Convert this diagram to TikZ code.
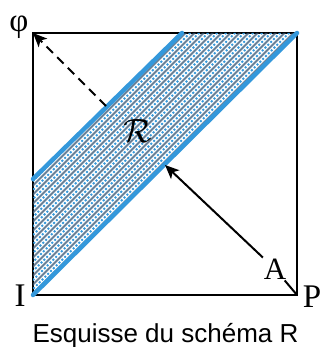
\documentclass[tikz,border=0pt]{standalone}
\usepackage{fontspec}
\setmainfont{Liberation Serif}
\newfontfamily\capfont{Liberation Sans}
\usetikzlibrary{arrows.meta}
\definecolor{bandblue}{RGB}{52,152,219}
\definecolor{hatchgrey}{RGB}{55,85,115}
\begin{document}
\begin{tikzpicture}[x=1pt,y=-1pt,
  frame/.style={line width=2.6pt, black},
  edge/.style={line width=4.5pt, bandblue, line cap=round},
  hatchblue/.style={bandblue, line width=1.8pt, dash pattern=on 2pt off 2pt},
  hatchgray/.style={hatchgrey, opacity=0.75, line width=2pt},
  lab/.style={inner sep=0pt, font=\fontsize{33}{33}\selectfont},
  arr/.style={line width=2pt, -{Stealth[length=14pt,width=12pt,inset=3.5pt]}}]
\useasboundingbox (0,0) rectangle (321,347);
\coordinate (TL) at (33,33);
\coordinate (TR) at (297,33);
\coordinate (BR) at (297,295);
\coordinate (BL) at (33,295);
\coordinate (U1) at (33,179);
\coordinate (U2) at (182,33);
\draw[frame] (TL) rectangle (BR);
\begin{scope}
  \clip (BL) -- (U1) -- (U2) -- (TR) -- cycle;
  \foreach \c in {214,223,...,332} {
    \draw[hatchblue] ({\c-300},300) -- (\c,0);
  }
  \foreach \c in {218.5,227.5,...,332} {
    \draw[hatchgray] ({\c-300},300) -- (\c,0);
  }
\end{scope}
\draw[edge] (BL) -- (TR);
\draw[edge] (U1) -- (U2);
\node[lab] (phi) at (19,27) {φ};
\node[lab] (I) at (20,296) {I};
\node[lab] (P) at (312,297) {P};
\node[lab, inner sep=1pt, font=\fontsize{31}{31}\selectfont] (A) at (275,269) {A};
\node[inner sep=0pt, scale=1.35, font=\fontsize{24}{24}\selectfont] (R) at (138,131) {$\mathcal{R}$};
\coordinate (D0) at (106,106);
\coordinate (H) at (165,165);
\draw[arr, dash pattern=on 9pt off 6pt] (D0) -- (TL);
\draw[line width=2pt] (BR) -- (A);
\draw[arr] (A) -- (H);
\node[font=\capfont\fontsize{26}{26}\selectfont, anchor=base, inner sep=0pt] (cap) at (165.5,342.5) {Esquisse du schéma R};
\end{tikzpicture}
\end{document}
